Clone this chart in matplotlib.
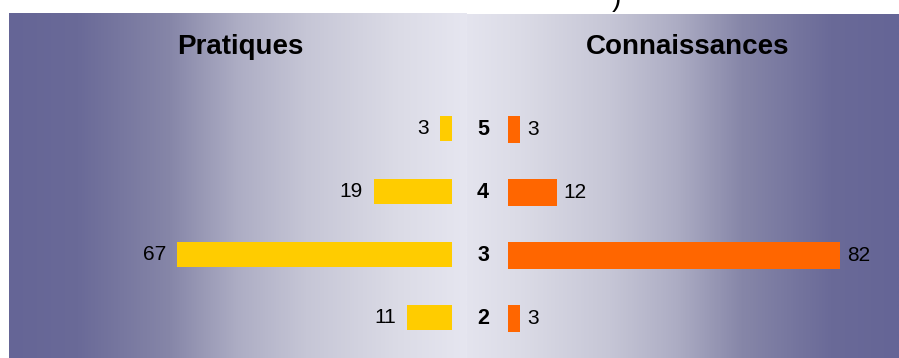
#!/usr/bin/env python3

import numpy as np
import matplotlib
matplotlib.use('Agg')
import matplotlib.pyplot as plt
from matplotlib.colors import LinearSegmentedColormap

plt.rcParams['font.family'] = ['Liberation Sans', 'DejaVu Sans']

notes = ['5', '4', '3', '2']
pratiques = [3, 19, 67, 11]
connaissances = [3, 12, 82, 3]

W, H = 899, 358
DPI = 100

# panel shading, dark at the outer edge and pale towards the middle
shade = LinearSegmentedColormap.from_list('shade', [
	(0.00, '#656596'),
	(0.15, '#6a6a98'),
	(0.35, '#8686a8'),
	(0.50, '#adadc4'),
	(0.65, '#c6c6d6'),
	(0.85, '#dbdbe6'),
	(1.00, '#e6e6f0'),
])

# figure pixel box -> axes rect
def rect(x0, y0, x1, y1):
	return [x0 / W, 1 - y1 / H, (x1 - x0) / W, (y1 - y0) / H]

fig = plt.figure(figsize=(W / DPI, H / DPI), dpi=DPI)
fig.patch.set_facecolor('white')

bg = fig.add_axes([0, 0, 1, 1])
bg.set_xlim(0, W)
bg.set_ylim(H, 0)
bg.axis('off')
ramp = np.linspace(0, 1, 512)[None, :]
bg.imshow(ramp, cmap=shade, aspect='auto', extent=(9, 467, H, 13), interpolation='bilinear')
bg.imshow(ramp[:, ::-1] * 0.97, cmap=shade, vmin=0, vmax=1, aspect='auto', extent=(467, W, H, 14), interpolation='bilinear')
bg.set_xlim(0, W)
bg.set_ylim(H, 0)

fig.text(240 / W, 1 - 47 / H, 'Pratiques', fontsize=20, fontweight='bold', ha='center', va='center')
fig.text(688 / W, 1 - 47 / H, 'Connaissances', fontsize=20, fontweight='bold', ha='center', va='center')
fig.text(612 / W, 1 - 6 / H, ')', fontsize=20, ha='left', va='baseline')

ypos = np.arange(len(notes))

# left side grows towards the left
axl = fig.add_axes(rect(9, 97, 452, 349))
axl.barh(ypos, pratiques, height=0.4, color='#ffcc00')
axl.set_xlim(108, 0)
axl.set_ylim(3.5, -0.5)
axl.axis('off')
for y, v in zip(ypos, pratiques):
	axl.annotate(str(v), (v, y), xytext=(-8, 0), textcoords='offset points',
		ha='right', va='center', fontsize=15)

axr = fig.add_axes(rect(508, 98, W, 350))
axr.barh(ypos, connaissances, height=0.43, color='#ff6600')
axr.set_xlim(0, (W - 508) / 4.05)
axr.set_ylim(3.5, -0.5)
axr.axis('off')
for y, v in zip(ypos, connaissances):
	axr.annotate(str(v), (v, y), xytext=(5, 0), textcoords='offset points',
		ha='left', va='center', fontsize=15)
	axr.annotate(notes[y], (0, y), xytext=(-18, 0), textcoords='offset points',
		ha='center', va='center', fontsize=15.5, fontweight='bold')

fig.savefig('out.png', dpi=DPI)
